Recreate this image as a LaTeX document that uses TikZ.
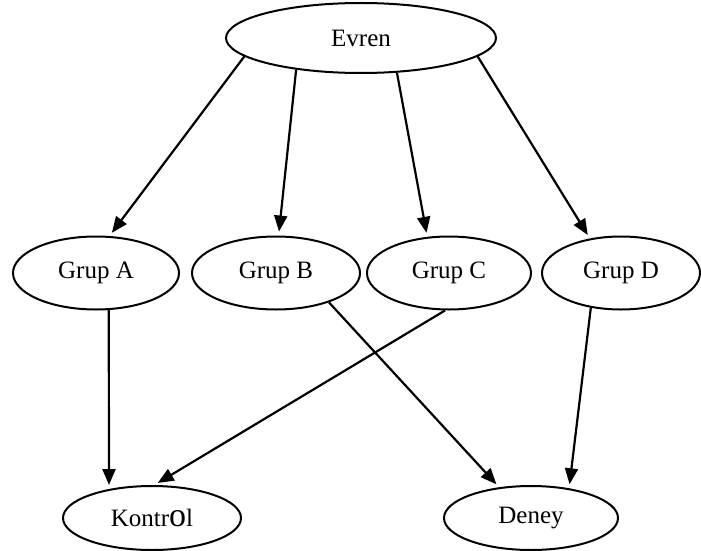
\documentclass[tikz,border=0pt]{standalone}
\usepackage{fontspec}
\setmainfont{Liberation Serif}
\usetikzlibrary{shapes.geometric,arrows.meta}

\tikzset{
    oval/.style={draw, ellipse, line width=2pt, inner sep=0pt},
    yon/.style={line width=2.2pt, -{Triangle[length=16pt,width=13pt]}, shorten >=4pt}
}

\begin{document}
\begin{tikzpicture}[x=1pt,y=1pt]
        \useasboundingbox (0,0) rectangle (701,-551);
        \fontsize{25}{30}\selectfont

        \node[oval, minimum width=270, minimum height=70] (evren) at (361,-38) {Evren};

        \node[oval, minimum width=166, minimum height=73] (grupa) at (96,-273) {Grup A};
        \node[oval, minimum width=168, minimum height=73] (grupb) at (276,-273) {Grup B};
        \node[oval, minimum width=164, minimum height=73] (grupc) at (449,-273) {Grup C};
        \node[oval, minimum width=158, minimum height=73] (grupd) at (621,-273) {Grup D};

        \node[oval, minimum width=178, minimum height=64] (kontrol) at (152,-518)
            {Kontr{\fontsize{34}{30}\selectfont o}l};
        \node[oval, minimum width=174, minimum height=64] (deney) at (531,-518) {Deney};

        % evren -> gruplar
        \draw[yon] (evren.189) -- (grupa.70);
        \draw[yon] (evren.206) -- (grupb.86);
        \draw[yon] (evren.316) -- (grupc.121);
        \draw[yon] (evren.351) -- (grupd.132);

        % gruplar -> kontrol / deney
        \draw[yon] (grupa.289) -- (kontrol.146);
        \draw[yon] (grupc.264) -- (kontrol.86);
        \draw[yon] (grupb.331) -- (deney.136);
        \draw[yon] (grupd.229) -- (deney.38);
    \end{tikzpicture}
\end{document}
